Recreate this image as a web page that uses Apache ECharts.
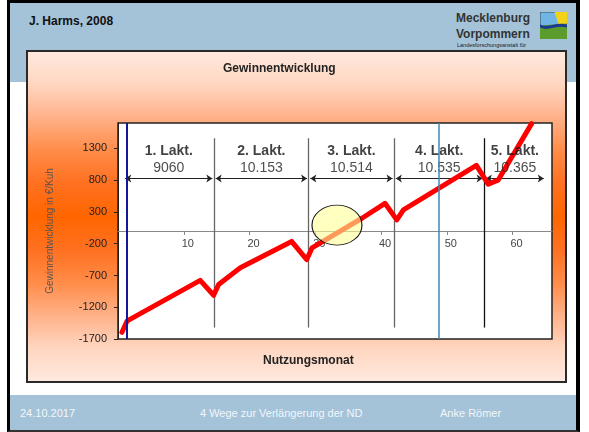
<!DOCTYPE html>
<html>
<head>
<meta charset="utf-8">
<title>Gewinnentwicklung</title>
<script src="https://cdn.jsdelivr.net/npm/echarts@6.0.0/dist/echarts.min.js"></script>
<style>
  body { margin: 0; width: 589px; height: 432px; background: #fff; position: relative; overflow: hidden;
         font-family: "Liberation Sans", Arial, sans-serif; }
  .frame { position: absolute; left: 7px; top: 0; width: 573px; height: 432px; box-sizing: border-box;
           border-left: 3px solid #000; border-right: 4px solid #000; border-top: 3px solid #000; border-bottom: 2px solid #333; }
  .head { position: absolute; left: 10px; top: 3px; width: 566px; height: 79px; background: #a4c3d8; }
  .foot { position: absolute; left: 10px; top: 395px; width: 566px; height: 35px; background: #a4c3d8; }
  .box { position: absolute; left: 26px; top: 50px; width: 541px; height: 333px; box-sizing: border-box;
         border: 2px solid #2a2a2a;
         background: linear-gradient(to bottom, #ffe9de 0%, #ffd6c0 10%, #ffb48e 19%, #ff8c48 30%, #ff7020 40%, #ff6600 50%,
                                     #ff7020 60%, #ff8c48 70%, #ffb48e 81%, #ffd6c0 90%, #ffe9de 100%); }
  .author { position: absolute; left: 29px; top: 14px; font-weight: bold; font-size: 12px; color: #111; }
  .logo1 { position: absolute; left: 456px; top: 10px; font-weight: bold; font-size: 12px; color: #333; line-height: 16px; }
  .logo2 { position: absolute; left: 457px; top: 42px; font-size: 5.5px; color: #222; }
  .icon { position: absolute; left: 540px; top: 12px; }
  .ft { position: absolute; top: 407px; font-size: 11px; color: #f2f6fa; }
  #main { position: absolute; left: 0; top: 0; width: 589px; height: 432px; }
</style>
</head>
<body>
<div class="frame"></div>
<div class="head"></div>
<div class="foot"></div>
<div class="box"></div>
<div class="author">J. Harms, 2008</div>
<div class="logo1">Mecklenburg<br>Vorpommern</div>
<div class="logo2">Landesforschungsanstalt für</div>
<svg class="icon" width="27" height="27" viewBox="0 0 26 26">
  <rect x="0" y="0" width="26" height="26" fill="#6fb6e4" stroke="#333" stroke-width="0.8"/>
  <polygon points="14,0 26,0 26,12 18,12" fill="#f3d21a"/>
  <polygon points="0,13 26,11 26,26 0,26" fill="#5c9c2c"/>
  <path d="M0,12 C8,16 16,9 26,12 L26,15 C16,12 8,19 0,15 Z" fill="#1c3a8e"/>
</svg>
<div class="ft" style="left:20px;">24.10.2017</div>
<div class="ft" style="left:200px;">4 Wege zur Verlängerung der ND</div>
<div class="ft" style="left:440px;">Anke Römer</div>
<div id="main"></div>
<script>
    // Gewinnverlauf (Nutzungsmonat / €/Kuh)
    var months = [0.6, 1.4, 12.5, 14.55, 15.3, 18.6, 26.4, 28.7, 29.5, 37.1, 40.6, 42.4, 43.4, 54.5, 56.3, 57.8, 62.9];
    var gain = [-1595, -1414, -778, -1012, -841, -580, -164, -450, -267, 201, 436, 175, 331, 1034, 737, 800, 1690];

    // Laktationen
    var laktBounds = [0.85, 14.6, 29, 42, 55.7, 65];
    var laktNames = ['1. Lakt.', '2. Lakt.', '3. Lakt.', '4. Lakt.', '5. Lakt.'];
    var laktYield = ['9060', '10.153', '10.514', '10.535', '10.365'];
    var arrowLevel = 826;
    var sepTop = 1460, sepBottom = -1520;

    // Markierungen
    var navyMonth = 1.3;
    var blueMonth = 48.8;
    var circleCenter = [33.3, 92];

    var yTicks = { min: -1700, max: 1700, interval: 500 };
    var xTicks = { min: 0, max: 66, interval: 10 };

    var gridTop = 123, gridHeight = 216;
    // x-Achse auf Höhe 0 legen
    var zeroOffset = -gridHeight * (0 - yTicks.min) / (yTicks.max - yTicks.min);

    var lineData = months.map(function (m, i) { return [m, gain[i]]; });

    var sepLines = [];
    for (var i = 1; i < laktBounds.length - 1; i++) {
        sepLines.push([
            { coord: [laktBounds[i], sepTop], lineStyle: { color: i === 4 ? '#111' : '#666', width: 1.3, type: 'solid' } },
            { coord: [laktBounds[i], sepBottom] }
        ]);
    }
    var arrowLines = [];
    for (var j = 0; j < laktNames.length; j++) {
        arrowLines.push([
            { coord: [laktBounds[j] + 0.25, arrowLevel], lineStyle: { color: '#222', width: 1, type: 'solid' } },
            { coord: [laktBounds[j + 1] - 0.25, arrowLevel] }
        ]);
    }
    var laktLabels = laktNames.map(function (n, k) {
        return { value: [(laktBounds[k] + laktBounds[k + 1]) / 2, arrowLevel], name: n, yieldText: laktYield[k] };
    });

    var myChart = echarts.init(document.getElementById('main'));
    var option = {
        backgroundColor: 'transparent',
        animation: false,
        textStyle: { fontFamily: 'Liberation Sans' },
        title: [
            { text: 'Gewinnentwicklung', left: 218, top: 58,
              textStyle: { fontSize: 12, fontWeight: 'bold', color: '#222' } },
            { text: 'Nutzungsmonat', left: 258, top: 350,
              textStyle: { fontSize: 12, fontWeight: 'bold', color: '#222' } }
        ],
        grid: {
            left: 118, top: gridTop, width: 434, height: gridHeight,
            show: true, backgroundColor: '#fff', borderColor: '#222', borderWidth: 1.5
        },
        xAxis: {
            type: 'value',
            position: 'bottom',
            offset: zeroOffset,
            min: xTicks.min, max: xTicks.max, interval: xTicks.interval,
            axisLine: { onZero: false, lineStyle: { color: '#888', width: 1 } },
            axisTick: { show: true, length: 4, lineStyle: { color: '#888' } },
            axisLabel: { color: '#444', fontSize: 11, margin: 7, padding: [0, 0, 0, 8],
                         showMinLabel: false, showMaxLabel: false },
            splitLine: { show: false }
        },
        yAxis: {
            type: 'value',
            min: yTicks.min, max: yTicks.max, interval: yTicks.interval,
            name: 'Gewinnentwicklung in €/Kuh',
            nameLocation: 'middle', nameGap: 63, nameRotate: 90,
            nameTextStyle: { fontSize: 10, color: '#555' },
            axisLine: { show: true, onZero: false, lineStyle: { color: '#222' } },
            axisTick: { show: true, length: 4, lineStyle: { color: '#222' } },
            axisLabel: { color: '#222', fontSize: 11, margin: 11, showMaxLabel: false,
                         formatter: function (v) { return String(v); } },
            splitLine: { show: false }
        },
        series: [
            {
                // Pfeile (unter der Kurve)
                type: 'line', data: [], silent: true,
                markLine: {
                    z: 1, silent: true, symbol: ['arrow', 'arrow'], symbolSize: 6,
                    label: { show: false },
                    data: arrowLines
                }
            },
            {
                // Trennlinien
                type: 'line', data: [], silent: true,
                markLine: {
                    z: 1, silent: true, symbol: ['none', 'none'],
                    label: { show: false },
                    data: sepLines
                }
            },
            {
                name: 'Gewinn',
                type: 'line',
                z: 3,
                data: lineData,
                showSymbol: false,
                lineStyle: { color: '#ff0000', width: 5, join: 'round', cap: 'round' },
                clip: true
            },
            {
                type: 'scatter', z: 4, silent: true,
                symbolSize: 0,
                data: laktLabels,
                label: {
                    show: true, position: 'top', distance: 2,
                    formatter: function (p) { return '{t|' + p.data.name + '}\n{n|' + p.data.yieldText + '}'; },
                    rich: {
                        t: { fontSize: 14, fontWeight: 'bold', color: '#111', lineHeight: 17, align: 'center' },
                        n: { fontSize: 14, color: '#222', lineHeight: 17, align: 'center' }
                    }
                }
            },
            {
                // Markierungslinien (über der Kurve)
                type: 'line', data: [], silent: true,
                markLine: {
                    z: 5, silent: true, symbol: ['none', 'none'],
                    label: { show: false },
                    data: [
                        [{ coord: [navyMonth, yTicks.min], lineStyle: { color: '#16169a', width: 2, type: 'solid' } },
                         { coord: [navyMonth, yTicks.max] }],
                        [{ coord: [blueMonth, yTicks.min], lineStyle: { color: '#3d8ab6', width: 1.5, type: 'solid' } },
                         { coord: [blueMonth, yTicks.max] }]
                    ]
                }
            },
            {
                type: 'scatter', z: 6, silent: true,
                symbol: 'circle', symbolSize: [50, 40],
                itemStyle: { color: 'rgba(255,255,150,0.6)', borderColor: '#111', borderWidth: 1, opacity: 1 },
                data: [circleCenter]
            }
        ]
    };
    myChart.setOption(option);
</script>
</body>
</html>
